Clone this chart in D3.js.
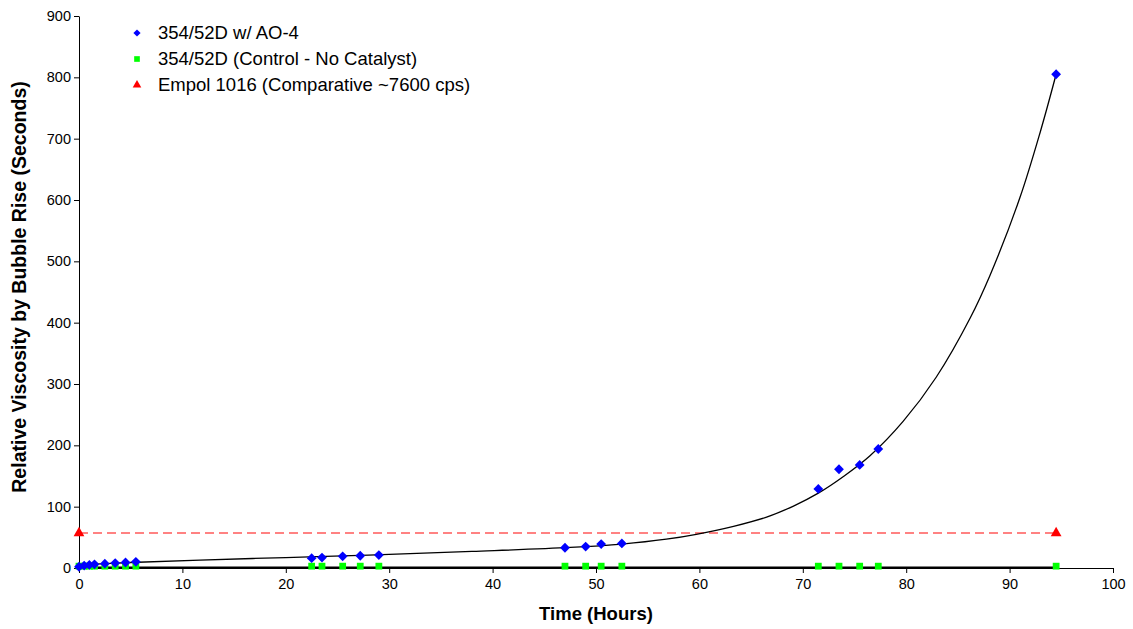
<!DOCTYPE html>
<html>
<head>
	<meta charset="utf-8">
	<title>Relative Viscosity by Bubble Rise</title>
	<script src="https://d3js.org/d3.v7.min.js"></script>
	<style type="text/css">
		body {
			margin: 0;
			background: white;
			font-family: Arial, 'Liberation Sans', sans-serif;
		}
		.axis text {
			font-family: Arial, 'Liberation Sans', sans-serif;
			font-size: 14.5px;
			fill: black;
		}
		.axis path, .axis line {
			stroke: black;
		}
		.title {
			font-weight: bold;
			font-size: 18.5px;
		}
	</style>
</head>
<body>
<div id="chart"></div>
<script type="text/javascript">

// time (hours) of each sample
var hours = [0, 0.5, 1, 1.5, 2.5, 3.5, 4.5, 5.5, 22.5, 23.5, 25.5, 27.2, 29, 47, 49, 50.5, 52.5, 71.5, 73.5, 75.5, 77.3, 94.5];

// 354/52D w/ AO-4
var withCatalyst = [2, 4, 5, 6, 7, 8, 9, 10, 16, 17, 19, 20, 21, 33, 35, 39, 40, 129, 161, 168, 194, 805];

// 354/52D control, no catalyst
var control = [3, 3, 3, 3, 3, 3, 3, 3, 3, 3, 3, 3, 3, 3, 3, 3, 3, 3, 3, 3, 3, 3];

// Empol 1016 comparative
var empolHours = [0, 94.5];
var empol = [57, 57];

// trend line through the AO-4 points
var fitHours = [0, 5, 11.7, 20, 28, 38, 47.5, 52.5, 56.8, 59.7, 63.3, 66.5, 69.1, 71.5, 74, 76.5, 79.7, 82.9, 86.2, 88.1, 91, 93, 94.5];
var fitValues = [5, 9, 13, 17, 21, 27, 33.5, 39, 47, 55, 68, 83, 101, 122, 150, 183, 239, 311, 408, 477, 604, 713, 805];

// control trend line
var controlFitHours = [0, 94.5];
var controlFit = [1, 1];

var xTicks = [0, 10, 20, 30, 40, 50, 60, 70, 80, 90, 100];
var yTicks = [0, 100, 200, 300, 400, 500, 600, 700, 800, 900];

var legendLabels = ["354/52D w/ AO-4", "354/52D (Control - No Catalyst)", "Empol 1016 (Comparative ~7600 cps)"];

var width = 1133, height = 629;
var plotLeft = 79, plotRight = 1113, plotTop = 16, plotBottom = 568;

var svg = d3.select("#chart").append("svg")
	.attr("width", width)
	.attr("height", height);

var x = d3.scaleLinear().domain([0, 100]).range([plotLeft, plotRight]);
var y = d3.scaleLinear().domain([0, 900]).range([plotBottom, plotTop]);

var line = d3.line().x(function(d) { return x(d[0]); }).y(function(d) { return y(d[1]); });

// red dashed comparative line
svg.append("path")
	.datum(d3.zip(empolHours, empol))
	.attr("fill", "none")
	.attr("stroke", "#ff5a5a")
	.attr("stroke-width", 1.5)
	.attr("stroke-dasharray", "9,5")
	.attr("d", line);

// fit curve
svg.append("path")
	.datum(d3.zip(fitHours, fitValues))
	.attr("fill", "none")
	.attr("stroke", "black")
	.attr("stroke-width", 1.3)
	.attr("d", d3.line().curve(d3.curveCatmullRom.alpha(0.5))
		.x(function(d) { return x(d[0]); }).y(function(d) { return y(d[1]); }));

svg.append("path")
	.datum(d3.zip(controlFitHours, controlFit))
	.attr("fill", "none")
	.attr("stroke", "black")
	.attr("stroke-width", 2)
	.attr("d", line);

// axes
svg.append("g")
	.attr("class", "axis")
	.attr("transform", "translate(0," + plotBottom + ")")
	.call(d3.axisBottom(x).tickValues(xTicks).tickSize(5).tickSizeOuter(0).tickPadding(6));

svg.append("g")
	.attr("class", "axis")
	.attr("transform", "translate(" + plotLeft + ",0)")
	.call(d3.axisLeft(y).tickValues(yTicks).tickSize(5).tickSizeOuter(0).tickPadding(3));

// markers (diamond = square turned 45 degrees)
var diamond = d3.symbol().type(d3.symbolSquare).size(48);
var square = d3.symbol().type(d3.symbolSquare).size(46);
var triangle = d3.symbol().type(d3.symbolTriangle).size(50);

svg.append("g").selectAll("path")
	.data(d3.zip(hours, control)).enter()
	.append("path")
	.attr("d", square)
	.attr("fill", "#00ff00")
	.attr("transform", function(d) { return "translate(" + x(d[0]) + "," + y(d[1]) + ")"; });

svg.append("g").selectAll("path")
	.data(d3.zip(hours, withCatalyst)).enter()
	.append("path")
	.attr("d", diamond)
	.attr("fill", "#0000ff")
	.attr("transform", function(d) { return "translate(" + x(d[0]) + "," + y(d[1]) + ") rotate(45)"; });

svg.append("g").selectAll("path")
	.data(d3.zip(empolHours, empol)).enter()
	.append("path")
	.attr("d", triangle)
	.attr("fill", "#ff0000")
	.attr("transform", function(d) { return "translate(" + x(d[0]) + "," + y(d[1]) + ")"; });

// axis titles
svg.append("text")
	.attr("class", "title")
	.attr("x", (plotLeft + plotRight) / 2)
	.attr("y", 620)
	.attr("text-anchor", "middle")
	.text("Time (Hours)");

svg.append("text")
	.attr("class", "title")
	.style("font-size", "19.5px")
	.attr("transform", "translate(26," + ((plotTop + plotBottom) / 2 - 5) + ") rotate(-90)")
	.attr("text-anchor", "middle")
	.text("Relative Viscosity by Bubble Rise (Seconds)");

// legend
var legendSymbols = [d3.symbol().type(d3.symbolSquare).size(26), d3.symbol().type(d3.symbolSquare).size(32), d3.symbol().type(d3.symbolTriangle).size(32)];
var legendColors = ["#0000ff", "#00ff00", "#ff0000"];

var legend = svg.append("g").selectAll("g")
	.data(legendLabels).enter()
	.append("g")
	.attr("transform", function(d, i) { return "translate(137," + (33 + i * 26) + ")"; });

legend.append("path")
	.attr("d", function(d, i) { return legendSymbols[i](); })
	.attr("transform", function(d, i) { return i === 0 ? "rotate(45)" : null; })
	.attr("fill", function(d, i) { return legendColors[i]; });

legend.append("text")
	.attr("x", 21)
	.attr("y", 6)
	.style("font-size", "18.5px")
	.text(function(d) { return d; });

</script>
</body>
</html>
